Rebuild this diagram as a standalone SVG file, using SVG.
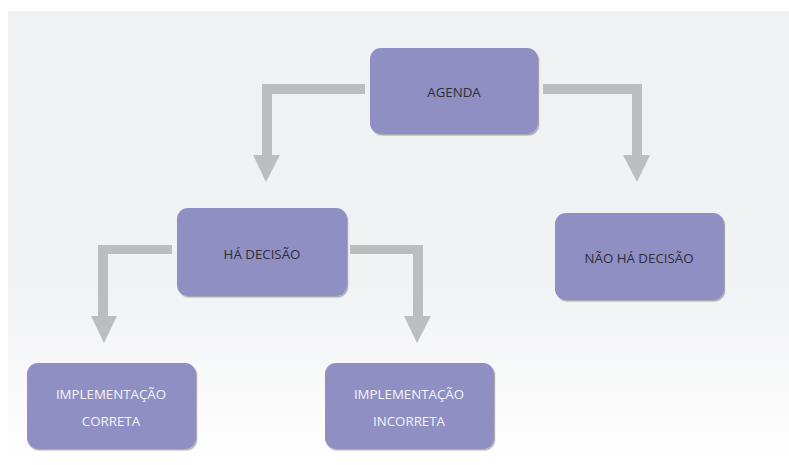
<svg xmlns="http://www.w3.org/2000/svg" width="789" height="465" viewBox="0 0 789 465">
<defs>
<linearGradient id="bg" x1="0" y1="0" x2="0" y2="1">
<stop offset="0" stop-color="#f0f1f3"/>
<stop offset="0.6" stop-color="#f1f2f4"/>
<stop offset="1" stop-color="#ffffff"/>
</linearGradient>
<filter id="sh" x="-10%" y="-10%" width="120%" height="130%">
<feDropShadow dx="1.2" dy="1.5" stdDeviation="0.5" flood-color="#000" flood-opacity="0.3"/>
</filter>
</defs>
<style>
.box{fill:#8f8fc4;filter:url(#sh)}
.lbl{font-family:"Open Sans","Liberation Sans",sans-serif;font-size:13.3px;fill:#2e2e36;text-anchor:middle}
.lt{fill:#f4f4f8}
.conn{fill:#bcbdc0}
</style>
<rect x="0" y="0" width="789" height="465" fill="#ffffff"/>
<rect x="8" y="11" width="781" height="454" fill="url(#bg)"/>
<g id="connectors">
<polygon class="conn" points="365,84 262,84 262,155 253,155 266,182 280,155 272,155 272,94 365,94"/>
<polygon class="conn" points="543,84 642,84 642,155 650,155 637,182 623,155 632,155 632,94 543,94"/>
<polygon class="conn" points="172,245 98,245 98,316 91,316 104,343 117,316 108,316 108,254 172,254"/>
<polygon class="conn" points="350,245 423,245 423,316 431,316 417,343 404,316 413,316 413,254 350,254"/>
</g>
<g id="agenda">
<rect class="box" x="370" y="48" width="168" height="86" rx="11"/>
<text class="lbl" x="454" y="97">AGENDA</text>
</g>
<g id="ha-decisao">
<rect class="box" x="177" y="208" width="170" height="88" rx="11"/>
<text class="lbl" x="262" y="259">HÁ DECISÃO</text>
</g>
<g id="nao-ha-decisao">
<rect class="box" x="555" y="213" width="169" height="87" rx="11"/>
<text class="lbl" x="639" y="263">NÃO HÁ DECISÃO</text>
</g>
<g id="impl-correta">
<rect class="box" x="27" y="363" width="169" height="86" rx="11"/>
<text class="lbl lt" x="111" y="399">IMPLEMENTAÇÃO</text>
<text class="lbl lt" x="111" y="426">CORRETA</text>
</g>
<g id="impl-incorreta">
<rect class="box" x="325" y="363" width="169" height="86" rx="11"/>
<text class="lbl lt" x="409" y="399">IMPLEMENTAÇÃO</text>
<text class="lbl lt" x="409" y="426">INCORRETA</text>
</g>
</svg>
